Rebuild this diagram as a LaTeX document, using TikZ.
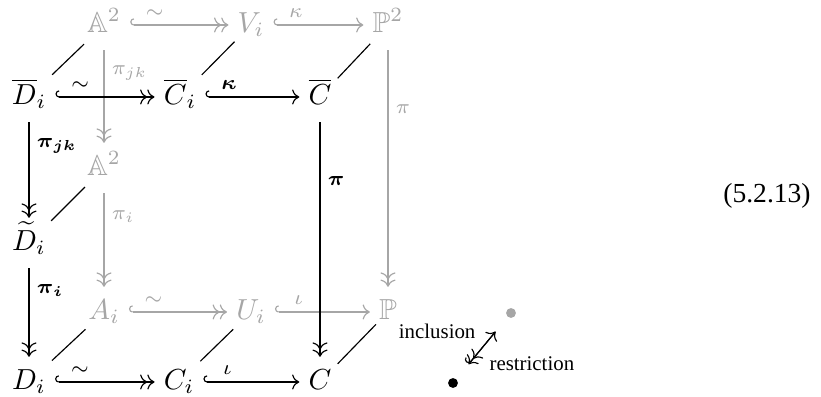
\documentclass[tikz,border=0pt]{standalone}
\usepackage{amsmath, amssymb}
\usepackage{fontspec}
\newfontfamily\notefont{Liberation Serif}
\usetikzlibrary{arrows.meta}

\begin{document}
\begin{tikzpicture}[
  x=0.345pt, y=-0.345pt,
  font=\normalsize,
  obj/.style={inner sep=3pt, text height=8pt, text depth=3pt},
  back/.style={obj, text=black!35},
  bk/.style={black!35},
  inc/.style={{Hooks[right]}-{Computer Modern Rightarrow}},
  iso/.style={{Hooks[right]}-{Computer Modern Rightarrow[]Computer Modern Rightarrow[]}},
  srj/.style={-{Computer Modern Rightarrow[]Computer Modern Rightarrow[]}},
  lab/.style={font=\scriptsize, pos=0.25, inner sep=2.5pt},
  slash/.style={shorten <=-1.5pt, shorten >=-3pt},
  dot/.style={circle, inner sep=0pt, minimum size=3.4pt},
  note/.style={font=\notefont\fontsize{7.2}{8}\selectfont, inner sep=0pt}
]
\useasboundingbox (0,0) rectangle (821,397);

% back face
\node[back] (a2t) at (104,25) {$\mathbb{A}^2$};
\node[back] (vi) at (251,25) {$V_i$};
\node[back] (p2) at (388,25) {$\mathbb{P}^2$};
\node[back] (a2m) at (104,168) {$\mathbb{A}^2$};
\node[back] (ai) at (104,312) {$A_i$};
\node[back] (ui) at (251,312) {$U_i$};
\node[back] (pp) at (388,312) {$\mathbb{P}$};

% front face
\node[obj] (dbar) at (29,97) {$\overline{D}_i$};
\node[obj] (cbar) at (180,97) {$\overline{C}_i$};
\node[obj] (cc) at (320,97) {$\overline{C}$};
\node[obj] (dtil) at (29,243) {$\widetilde{D}_i$};
\node[obj] (dd) at (29,382) {$D_i$};
\node[obj] (ci) at (179,382) {$C_i$};
\node[obj] (c) at (320,382) {$C$};

\draw[bk, iso] (a2t) -- (vi) node[lab, above]{$\sim$};
\draw[bk, inc] (vi) -- (p2) node[lab, above]{$\kappa$};
\draw[bk, srj] (a2t) -- (a2m) node[lab, right]{$\pi_{jk}$};
\draw[bk, srj] (a2m) -- (ai) node[lab, right]{$\pi_i$};
\draw[bk, srj] (p2) -- (pp) node[lab, right]{$\pi$};
\draw[bk, iso] (ai) -- (ui) node[lab, above]{$\sim$};
\draw[bk, inc] (ui) -- (pp) node[lab, above]{$\iota$};

\foreach \f/\b in {dbar/a2t, cbar/vi, cc/p2, dtil/a2m, dd/ai, ci/ui, c/pp}
  \draw[slash] (\f) -- (\b);

\draw[iso] (dbar) -- (cbar) node[lab, above]{$\sim$};
\draw[inc] (cbar) -- (cc) node[lab, above]{$\boldsymbol{\kappa}$};
\draw[srj] (dbar) -- (dtil) node[lab, right]{$\boldsymbol{\pi}_{\boldsymbol{jk}}$};
\draw[srj] (dtil) -- (dd) node[lab, right]{$\boldsymbol{\pi}_{\boldsymbol{i}}$};
\draw[srj] (cc) -- (c) node[lab, right]{$\boldsymbol{\pi}$};
\draw[iso] (dd) -- (ci) node[lab, above]{$\sim$};
\draw[inc] (ci) -- (c) node[lab, above]{$\iota$};

% legend
\node[dot, fill=black!35] (gdot) at (511,313) {};
\node[dot, fill=black] (bdot) at (453,383) {};
\draw[inc, shorten <=6.5pt, shorten >=6.5pt] (bdot) -- (gdot);
\draw[srj, shorten <=6.5pt, shorten >=6.5pt] (gdot) -- (bdot);
\node[note, anchor=east] (incl) at (476,331) {inclusion};
\node[note, anchor=west] (restr) at (489,364) {restriction};

\node[font=\notefont\fontsize{9.5}{11}\selectfont] (eqno) at (767,196) {(5.2.13)};
\end{tikzpicture}
\end{document}
